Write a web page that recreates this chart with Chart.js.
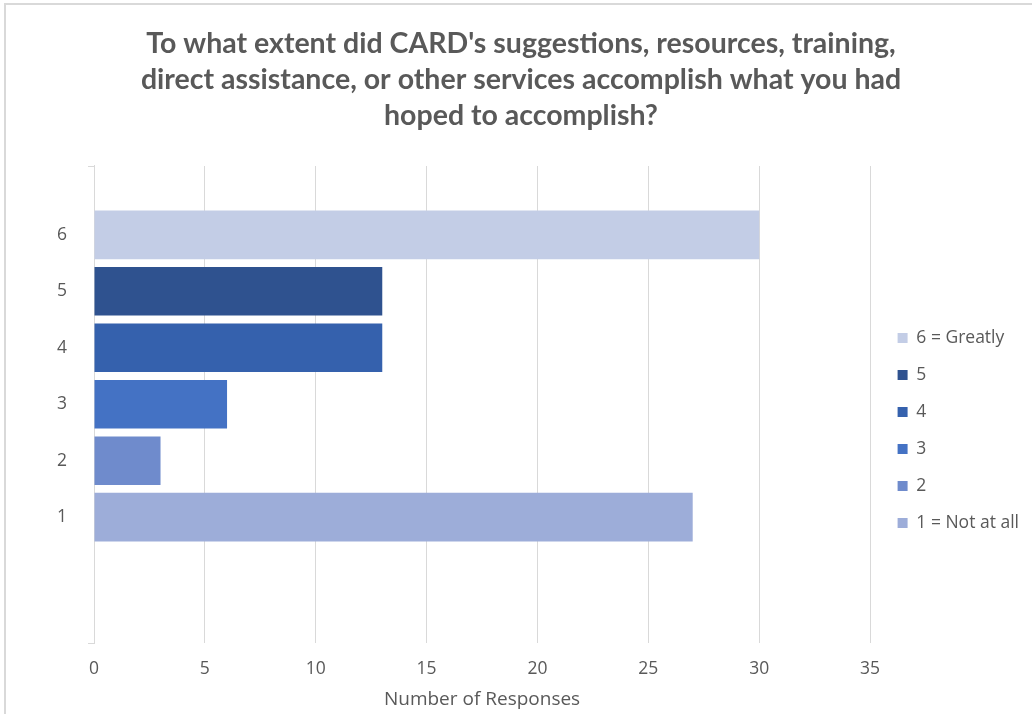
<!DOCTYPE html>
<html>
<head>
<meta charset="utf-8">
<title>CARD survey - extent accomplished</title>
<script src="https://cdn.jsdelivr.net/npm/chart.js@4/dist/chart.umd.min.js"></script>
<style>
    html, body { margin: 0; padding: 0; background: #fff; }
    #wrap { position: relative; width: 1032px; height: 714px; }
    /* chart frame, only the top and left edges show */
    #wrap::before {
        content: "";
        position: absolute;
        left: 4px; top: 3px; right: 0; bottom: 0;
        border-top: 2px solid #d9d9d9;
        border-left: 2px solid #d9d9d9;
        pointer-events: none;
    }
</style>
</head>
<body>
<div id="wrap"><canvas id="chart" width="1032" height="714"></canvas></div>
<script>
// Rating scale, top of the chart first
const ratings = [6, 5, 4, 3, 2, 1];
const ratingLabels = ['6 = Greatly', '5', '4', '3', '2', '1 = Not at all'];
const responses = [30, 13, 13, 6, 3, 27];
const barColors = ['#c3cde6', '#2f528f', '#3561ad', '#4472c4', '#6f8bcc', '#9dadd9'];
const xTicks = [0, 5, 10, 15, 20, 25, 30, 35];

const titleLines = [
    "To what extent did CARD's suggestions, resources, training,",
    "direct assistance, or other services accomplish what you had",
    "hoped to accomplish?"
];

const textColor = '#595959';
const titleFont = "Lato, 'Open Sans', sans-serif";
const bodyFont = "'Open Sans', 'Noto Sans', sans-serif";

// one dataset per rating so each gets its own legend entry
const datasets = ratings.map(function (r, i) {
    return {
        label: ratingLabels[i],
        data: [{ x: responses[i], y: r }],
        backgroundColor: barColors[i],
        borderWidth: 0,
        grouped: false,
        barPercentage: 0.86,
        categoryPercentage: 1.0
    };
});

// small tick marks at the top and bottom of the category axis
const edgeTicks = {
    id: 'edgeTicks',
    afterDraw(chart) {
        const ctx = chart.ctx;
        const a = chart.chartArea;
        ctx.save();
        ctx.strokeStyle = '#d9d9d9';
        ctx.lineWidth = 1;
        ctx.beginPath();
        ctx.moveTo(a.left - 6, a.top + 0.5);
        ctx.lineTo(a.left, a.top + 0.5);
        ctx.moveTo(a.left - 6, a.bottom + 0.5);
        ctx.lineTo(a.left, a.bottom + 0.5);
        ctx.stroke();
        ctx.restore();
    }
};

// move the legend block down and a little away from the plot
const legendShift = {
    id: 'legendShift',
    afterLayout(chart) {
        const lg = chart.legend;
        if (!lg) return;
        lg.top += 26;
        lg.bottom += 26;
        lg.left += 8;
        lg.right += 8;
    }
};

const ctx = document.getElementById('chart').getContext('2d');
const chart = new Chart(ctx, {
    type: 'bar',
    data: { datasets: datasets },
    plugins: [edgeTicks, legendShift],
    options: {
        indexAxis: 'y',
        responsive: false,
        animation: false,
        layout: {
            padding: { left: 21, right: 11, top: 8, bottom: 5 }
        },
        scales: {
            x: {
                type: 'linear',
                min: 0,
                max: 35,
                afterBuildTicks: function (scale) {
                    scale.ticks = xTicks.map(v => ({ value: v }));
                },
                grid: { color: '#d9d9d9', drawTicks: false },
                border: { display: false },
                ticks: {
                    color: textColor,
                    padding: 15.5,
                    font: { family: bodyFont, size: 17.5 }
                },
                title: {
                    display: true,
                    text: 'Number of Responses',
                    color: textColor,
                    padding: { top: -5, bottom: 0 },
                    font: { family: bodyFont, size: 19, lineHeight: 1 }
                }
            },
            y: {
                type: 'linear',
                offset: false,
                min: -1.23,
                max: 7.22,
                afterBuildTicks: function (scale) {
                    scale.ticks = ratings.map(v => ({ value: v }));
                },
                // extra room left of the rating labels
                afterFit: function (scale) {
                    scale.width += 17;
                },
                grid: { display: false },
                border: { display: true, color: '#d9d9d9', width: 1 },
                ticks: {
                    color: textColor,
                    padding: 19,
                    font: { family: bodyFont, size: 17.5 }
                }
            }
        },
        plugins: {
            title: {
                display: true,
                text: titleLines,
                color: textColor,
                padding: { top: 18, bottom: 32 },
                font: { family: titleFont, size: 28.5, weight: 'bold', lineHeight: 1.263 }
            },
            legend: {
                position: 'right',
                fullSize: false,
                labels: {
                    color: textColor,
                    boxWidth: 10,
                    boxHeight: 10,
                    padding: 19.5,
                    font: { family: bodyFont, size: 17.5 }
                }
            },
            tooltip: { enabled: false }
        }
    }
});
</script>
</body>
</html>
